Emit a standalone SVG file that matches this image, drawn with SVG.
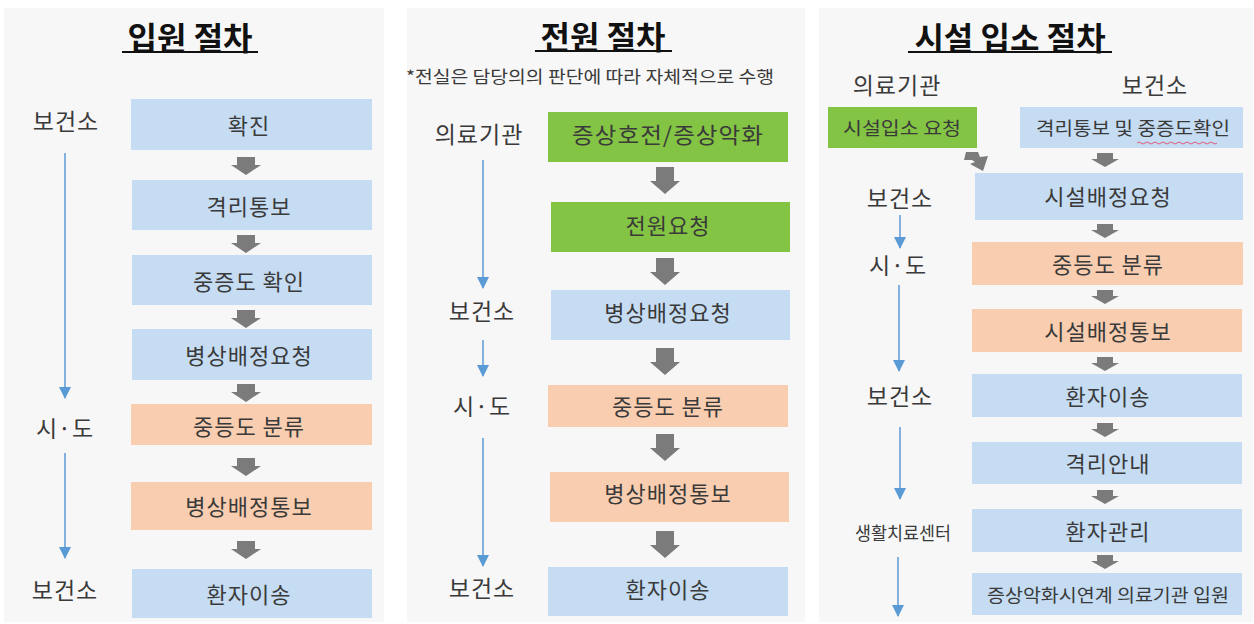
<svg xmlns="http://www.w3.org/2000/svg" width="1254" height="624" viewBox="0 0 1254 624">
<style>
text{font-family:"Noto Sans CJK KR","Noto Sans",sans-serif;fill:#3a3a3a;text-anchor:middle;dominant-baseline:central}
.title{font-size:32px;font-weight:bold;fill:#111}
.lbl{font-size:23px;letter-spacing:1px}
.bx{font-size:22px;letter-spacing:1px}
.sm{font-size:18px}
.blue{fill:#c5dcf3}
.org{fill:#f9cdb0}
.grn{fill:#84c444}
.ul{stroke:#111;stroke-width:2}
.vl{stroke:#5b9bd5;stroke-width:1.5;fill:none}
.ga{fill:#7b7b7b}
</style>
<defs>
<marker id="bd" markerWidth="12" markerHeight="12" refX="6" refY="11" orient="0" markerUnits="userSpaceOnUse" viewBox="0 0 12 12">
<path d="M0,0 L12,0 L6,12 Z" fill="#5b9bd5"/>
</marker>
<path id="a1" d="M-9,0 H9 V8 H15 L0,18 L-15,8 H-9 Z"/>
<path id="a2" d="M-9,0 H9 V14 H15 L0,27 L-15,14 H-9 Z"/>
<path id="a3" d="M-8,0 H8 V6 H14 L0,14 L-14,6 H-8 Z"/>
</defs>
<rect width="1254" height="624" fill="#ffffff"/>
<rect x="4" y="8" width="380" height="614" fill="#f7f7f7"/>
<rect x="407" y="8" width="398" height="614" fill="#f7f7f7"/>
<rect x="819" y="8" width="434" height="614" fill="#f7f7f7"/>

<!-- Panel 1 -->
<g id="p1-title"><text class="title" x="190" y="36">입원 절차</text><line class="ul" x1="122" y1="52" x2="258" y2="52"/></g>
<g id="p1-l1"><text class="lbl" x="66" y="120">보건소</text></g>
<g id="p1-l2"><text class="lbl" x="65" y="427">시·도</text></g>
<g id="p1-l3"><text class="lbl" x="65" y="589">보건소</text></g>
<g id="p1-n1"><rect class="blue" x="131" y="99" width="241" height="51"/><text class="bx" x="249" y="124">확진</text></g>
<g id="p1-n2"><rect class="blue" x="132" y="180" width="240" height="50"/><text class="bx" x="249" y="205">격리통보</text></g>
<g id="p1-n3"><rect class="blue" x="132" y="255" width="240" height="50"/><text class="bx" x="249" y="280">중증도 확인</text></g>
<g id="p1-n4"><rect class="blue" x="132" y="329" width="240" height="51"/><text class="bx" x="249" y="354">병상배정요청</text></g>
<g id="p1-n5"><rect class="org" x="131" y="404" width="241" height="41"/><text class="bx" x="249" y="425">중등도 분류</text></g>
<g id="p1-n6"><rect class="org" x="131" y="482" width="241" height="48"/><text class="bx" x="249" y="505">병상배정통보</text></g>
<g id="p1-n7"><rect class="blue" x="132" y="569" width="240" height="49"/><text class="bx" x="249" y="593">환자이송</text></g>

<!-- Panel 2 -->
<g id="p2-title"><text class="title" x="603" y="35">전원 절차</text><line class="ul" x1="535" y1="51" x2="672" y2="51"/></g>
<g id="p2-note"><text x="590" y="75" style="font-size:17px" textLength="368" lengthAdjust="spacingAndGlyphs">*전실은 담당의의 판단에 따라 자체적으로 수행</text></g>
<g id="p2-l1"><text class="lbl" x="479" y="133">의료기관</text></g>
<g id="p2-l2"><text class="lbl" x="482" y="310">보건소</text></g>
<g id="p2-l3"><text class="lbl" x="482" y="405">시·도</text></g>
<g id="p2-l4"><text class="lbl" x="482" y="587">보건소</text></g>
<g id="p2-n1"><rect class="grn" x="548" y="112" width="240" height="50"/><text class="bx" x="668" y="133" textLength="192" lengthAdjust="spacingAndGlyphs">증상호전/증상악화</text></g>
<g id="p2-n2"><rect class="grn" x="551" y="202" width="239" height="50"/><text class="bx" x="668" y="224">전원요청</text></g>
<g id="p2-n3"><rect class="blue" x="551" y="290" width="239" height="50"/><text class="bx" x="668" y="311">병상배정요청</text></g>
<g id="p2-n4"><rect class="org" x="548" y="385" width="240" height="42"/><text class="bx" x="668" y="405">중등도 분류</text></g>
<g id="p2-n5"><rect class="org" x="550" y="472" width="239" height="50"/><text class="bx" x="668" y="492">병상배정통보</text></g>
<g id="p2-n6"><rect class="blue" x="548" y="567" width="240" height="49"/><text class="bx" x="668" y="588">환자이송</text></g>

<!-- Panel 3 -->
<g id="p3-title"><text class="title" x="1010" y="36">시설 입소 절차</text><line class="ul" x1="908" y1="52" x2="1112" y2="52"/></g>
<g id="p3-h1"><text class="lbl" x="897" y="84">의료기관</text></g>
<g id="p3-h2"><text class="lbl" x="1155" y="84">보건소</text></g>
<g id="p3-l1"><text class="lbl" x="900" y="197">보건소</text></g>
<g id="p3-l2"><text class="lbl" x="898" y="264">시·도</text></g>
<g id="p3-l3"><text class="lbl" x="900" y="395">보건소</text></g>
<g id="p3-l4"><text x="903" y="532" style="font-size:18px" textLength="96" lengthAdjust="spacingAndGlyphs">생활치료센터</text></g>
<g id="p3-n1"><rect class="grn" x="828" y="107" width="149" height="41"/><text class="sm" x="902" y="127" textLength="118" lengthAdjust="spacingAndGlyphs">시설입소 요청</text></g>
<g id="p3-n2"><rect class="blue" x="1020" y="107" width="223" height="41"/><text class="sm" x="1133" y="127" textLength="194" lengthAdjust="spacingAndGlyphs">격리통보 및 중증도확인</text><path d="M1137,143 q2,-2 4,0 t4,0 t4,0 t4,0 t4,0 t4,0 t4,0 t4,0 t4,0 t4,0 t4,0 t4,0 t4,0 t4,0 t4,0 t4,0 t4,0 t4,0 t4,0 t4,0" fill="none" stroke="#e05a7a" stroke-width="1"/></g>
<g id="p3-n3"><rect class="blue" x="975" y="173" width="268" height="47"/><text class="bx" x="1108" y="195">시설배정요청</text></g>
<g id="p3-n4"><rect class="org" x="972" y="242" width="271" height="43"/><text class="bx" x="1108" y="263">중등도 분류</text></g>
<g id="p3-n5"><rect class="org" x="972" y="309" width="270" height="43"/><text class="bx" x="1108" y="330">시설배정통보</text></g>
<g id="p3-n6"><rect class="blue" x="972" y="374" width="270" height="43"/><text class="bx" x="1108" y="395">환자이송</text></g>
<g id="p3-n7"><rect class="blue" x="972" y="442" width="270" height="42"/><text class="bx" x="1108" y="462">격리안내</text></g>
<g id="p3-n8"><rect class="blue" x="972" y="509" width="270" height="43"/><text class="bx" x="1108" y="530">환자관리</text></g>
<g id="p3-n9"><rect class="blue" x="972" y="573" width="270" height="42"/><text class="sm" x="1108" y="594" textLength="242" lengthAdjust="spacingAndGlyphs">증상악화시연계 의료기관 입원</text></g>

<!-- Connectors -->
<g id="connectors">
<g class="ga">
<use href="#a1" x="246" y="157"/>
<use href="#a1" x="246" y="235"/>
<use href="#a1" x="246" y="310"/>
<use href="#a1" x="246" y="384"/>
<use href="#a1" x="246" y="458"/>
<use href="#a1" x="246" y="541"/>
<use href="#a2" x="665" y="167"/>
<use href="#a2" x="665" y="258"/>
<use href="#a2" x="665" y="348"/>
<use href="#a2" x="665" y="434"/>
<use href="#a2" x="665" y="531"/>
<use href="#a3" x="1105" y="153"/>
<use href="#a3" x="1105" y="224"/>
<use href="#a3" x="1105" y="290"/>
<use href="#a3" x="1105" y="357"/>
<use href="#a3" x="1105" y="423"/>
<use href="#a3" x="1105" y="490"/>
<use href="#a3" x="1105" y="555"/>
<path d="M966,152 L978,152 L980,157 L988,156 L983,171 L970,164 L975,162 L972,160 L964,160 Z"/>
</g>
<line class="vl" x1="65" y1="153" x2="65" y2="398" marker-end="url(#bd)"/>
<line class="vl" x1="65" y1="453" x2="65" y2="558" marker-end="url(#bd)"/>
<line class="vl" x1="483" y1="160" x2="483" y2="288" marker-end="url(#bd)"/>
<line class="vl" x1="483" y1="340" x2="483" y2="376" marker-end="url(#bd)"/>
<line class="vl" x1="483" y1="438" x2="483" y2="566" marker-end="url(#bd)"/>
<line class="vl" x1="900" y1="215" x2="900" y2="248" marker-end="url(#bd)"/>
<line class="vl" x1="899" y1="285" x2="899" y2="371" marker-end="url(#bd)"/>
<line class="vl" x1="900" y1="427" x2="900" y2="499" marker-end="url(#bd)"/>
<line class="vl" x1="898" y1="557" x2="898" y2="616" marker-end="url(#bd)"/>
</g>
</svg>
